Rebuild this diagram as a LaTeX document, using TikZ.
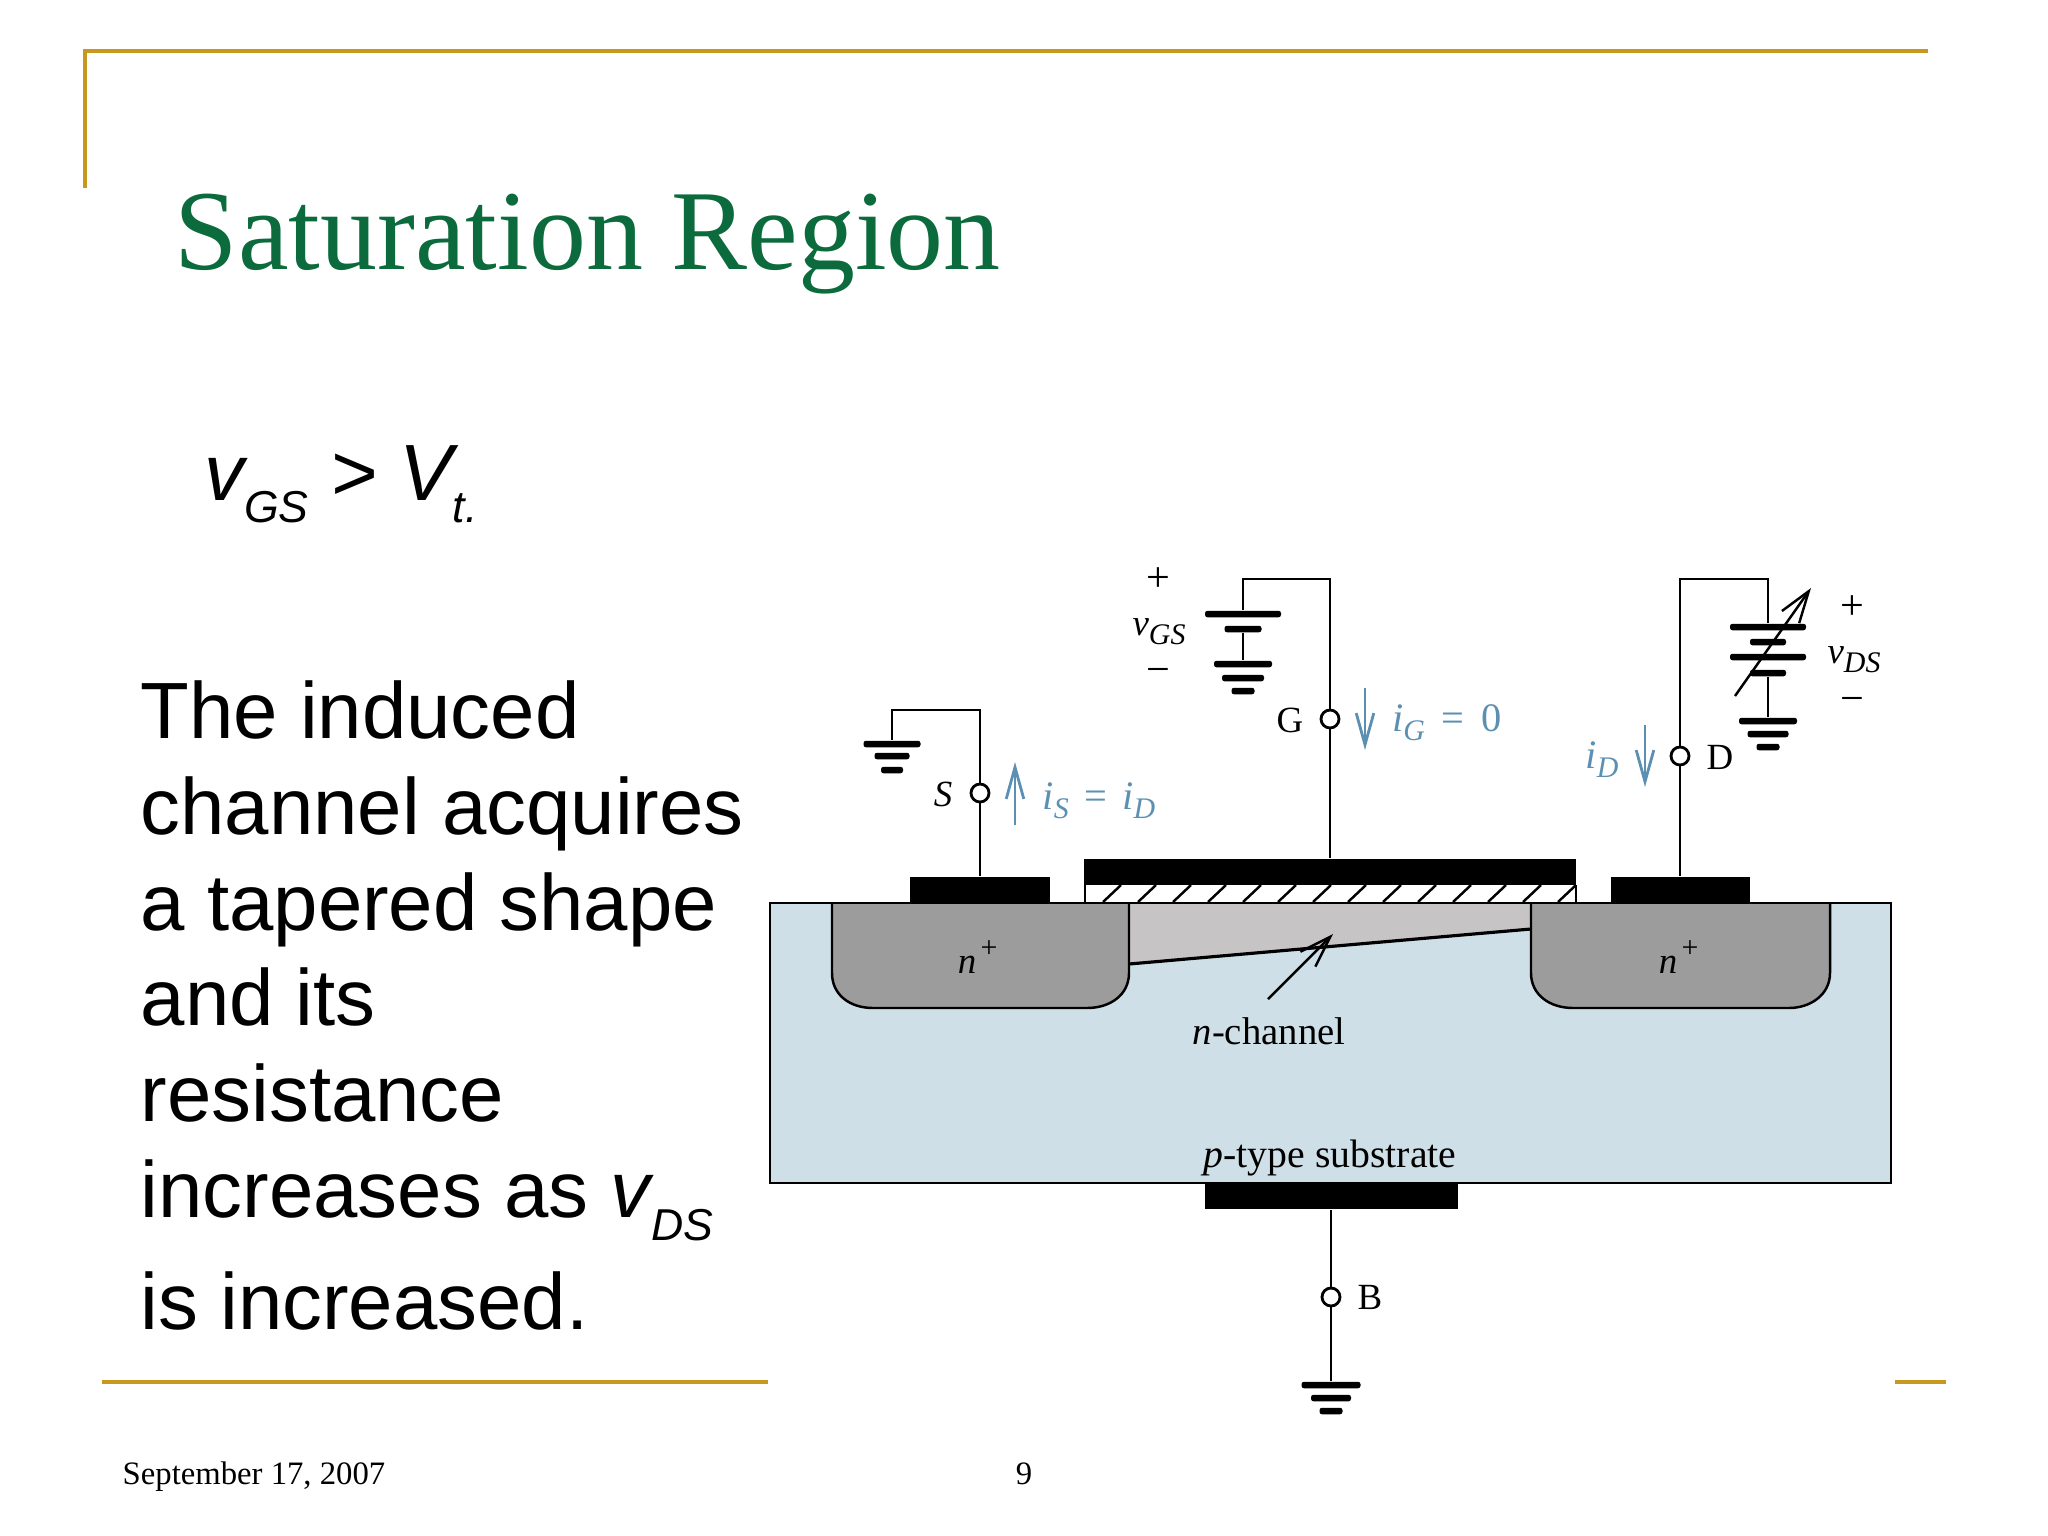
\documentclass[tikz,border=0pt]{standalone}
\usepackage{fontspec}
\usetikzlibrary{arrows.meta}
\setmainfont{Liberation Serif}
\newfontfamily\arialfont{Liberation Sans}
\definecolor{slidegold}{HTML}{C8981E}
\definecolor{titlegreen}{HTML}{0B6B3C}
\definecolor{substrateblue}{HTML}{CFDFE7}
\definecolor{wellgray}{HTML}{9C9C9C}
\definecolor{channelgray}{HTML}{C6C4C4}
\definecolor{currentblue}{HTML}{5C90B2}
\newcommand{\lowtxt}[1]{\raisebox{-6.5pt}{\fontsize{12.7}{14}\selectfont\textit{#1}}}
\newcommand{\smallsub}[2]{\textit{#1}\raisebox{-2.5pt}{\fontsize{8.5}{9}\selectfont\textit{#2}}}
\tikzset{
  goldline/.style={draw=slidegold,line width=1.2pt},
  wire/.style={draw=black,line width=0.7pt},
  metal/.style={fill=black,inner sep=0pt,minimum height=26*0.01cm},
  plate/.style={fill=black,rounded corners=0.7pt,inner sep=0pt,minimum height=6.5*0.01cm},
  terminal/.style={circle,draw=black,fill=white,line width=0.8pt,inner sep=0pt,minimum size=18*0.01cm},
  bigtext/.style={font=\arialfont\fontsize{22.68}{27.25}\selectfont,inner sep=0pt,align=left},
  label/.style={font=\fontsize{10.5}{12}\selectfont,inner sep=0pt},
  bluelabel/.style={label,text=currentblue,font=\fontsize{11.5}{13}\selectfont},
  current/.style={draw=currentblue,line width=0.8pt,-{Straight Barb[length=9pt,width=5pt]}}
}
\begin{document}
\begin{tikzpicture}[x=0.01cm,y=-0.01cm]
    \useasboundingbox (0,0) rectangle (2048,1536);
    % slide frame
    \draw[goldline] (85,188) -- (85,51) -- (1928,51);
    \draw[goldline] (102,1382) -- (768,1382);
    \draw[goldline] (1895,1382) -- (1946,1382);
    % slide text
    \node[anchor=base west,inner sep=0pt,text=titlegreen,font=\fontsize{32.4}{36}\selectfont] (title) at (174,269) {Saturation Region};
    \node[anchor=base west,inner sep=0pt,font=\arialfont\fontsize{22.68}{27}\selectfont] (vgsrule) at (204,500)
        {\textit{v}\hspace{-1.2pt}\lowtxt{GS} \textit{> V}\hspace{-1.8pt}\lowtxt{t.}};
    \node[bigtext,anchor=north west] (bodytext) at (140,680) {The induced\\channel acquires\\a tapered shape\\and its\\resistance\\increases as \textit{v}\hspace{-0.8pt}\lowtxt{DS}\\[4.5pt]is increased.};
    \node[anchor=base west,inner sep=0pt,font=\fontsize{9.3}{11}\selectfont] (datetext) at (122,1484) {September 17, 2007};
    \node[anchor=base,inner sep=0pt,font=\fontsize{9.3}{11}\selectfont] (pagenum) at (1024,1484) {9};
    % device body
    \draw[fill=substrateblue,line width=0.7pt] (770,903) rectangle (1891,1183);
    \fill[channelgray] (1129,903) -- (1129,964) -- (1531,929) -- (1531,903) -- cycle;
    \draw[line width=0.9pt] (1129,964) -- (1531,929);
    \draw[fill=wellgray,line width=0.7pt] (832,903) -- (832,973) .. controls (832,995) and (850,1008) .. (873,1008)
        -- (1087,1008) .. controls (1110,1008) and (1129,995) .. (1129,973) -- (1129,903);
    \draw[fill=wellgray,line width=0.7pt] (1531,903) -- (1531,973) .. controls (1531,995) and (1550,1008) .. (1573,1008)
        -- (1789,1008) .. controls (1810,1008) and (1830,995) .. (1830,973) -- (1830,903);
    \draw[line width=0.7pt] (770,903) -- (1891,903);
    % gate oxide
    \draw[line width=0.7pt] (1085,885) -- (1085,903) (1576,885) -- (1576,903);
    \foreach \i in {0,...,13}
        \draw[line width=0.7pt] (1103+35*\i,902) -- (1121+35*\i,885);
    % contacts
    \node[metal,minimum width=140*0.01cm] (smetal) at (980,890) {};
    \node[metal,minimum width=492*0.01cm] (gmetal) at (1330,872) {};
    \node[metal,minimum width=139*0.01cm] (dmetal) at (1680,890) {};
    \node[metal,minimum width=253*0.01cm] (bmetal) at (1331,1196) {};
    % terminals
    \node[terminal] (sterm) at (980,793) {};
    \node[terminal] (gterm) at (1330,719) {};
    \node[terminal] (dterm) at (1680,756) {};
    \node[terminal] (bterm) at (1331,1297) {};
    % battery plates and grounds
    \foreach \name/\x/\y/\w in {sgA/892/744/57,sgB/892/756/35,sgC/892/770/22,
        vgA/1243/614/76,vgB/1243/629/37,ggA/1243/664/58,ggB/1243/678/42,ggC/1243/691/23,
        vdA/1768/627/76,vdB/1768/642/36,vdC/1768/657/76,vdD/1768/673/36,
        dgA/1768/721/58,dgB/1768/734/41,dgC/1768/747/23,
        bgA/1331/1385/59,bgB/1331/1398/40,bgC/1331/1411/23}
        \node[plate,minimum width=\w*0.01cm] (\name) at (\x,\y) {};
    % corner points of the wires
    \coordinate (scorner) at (892,710);
    \coordinate (stop) at (980,710);
    \coordinate (gcorner) at (1243,579);
    \coordinate (gtop) at (1330,579);
    \coordinate (dcorner) at (1680,579);
    \coordinate (dtop) at (1768,579);
    % wires
    \draw[wire] (smetal.north -| sterm) -- (sterm);
    \draw[wire] (sterm) -- (stop) -- (scorner) -- (sgA);
    \draw[wire] (gmetal.north -| gterm) -- (gterm);
    \draw[wire] (gterm) -- (gtop) -- (gcorner) -- (vgA);
    \draw[wire] (vgB) -- (ggA);
    \draw[wire] (dmetal) -- (dterm);
    \draw[wire] (dterm) -- (dcorner) -- (dtop) -- (vdA);
    \draw[wire] (vdD) -- (dgA);
    \draw[wire] (bmetal) -- (bterm);
    \draw[wire] (bterm) -- (bgA);
    % variable source arrow
    \coordinate (varstart) at (1735,696);
    \coordinate (varend) at (1811,588);
    \draw[wire,-{Straight Barb[length=9pt,width=6pt]}] (varstart) -- (varend);
    % channel pointer
    \coordinate (chanstart) at (1268,999);
    \coordinate (chanend) at (1333,934);
    \draw[wire,-{Straight Barb[length=9pt,width=6pt]}] (chanstart) -- (chanend);
    % currents
    \coordinate (isA) at (1015,825);
    \coordinate (isB) at (1015,762);
    \coordinate (igA) at (1365,688);
    \coordinate (igB) at (1365,750);
    \coordinate (idA) at (1645,725);
    \coordinate (idB) at (1645,787);
    \draw[current] (isA) -- (isB);
    \draw[current] (igA) -- (igB);
    \draw[current] (idA) -- (idB);
    % labels
    \node[label,font=\fontsize{10.5}{12}\selectfont\itshape] (slabel) at (943,794) {S};
    \node[label] (glabel) at (1290,720) {G};
    \node[label] (dlabel) at (1720,757) {D};
    \node[label] (blabel) at (1370,1297) {B};
    \node[bluelabel] (islabel) at (1099,801) {\smallsub{i}{S}\hspace{0.38em}=\hspace{0.38em}\smallsub{i}{D}};
    \node[bluelabel] (iglabel) at (1447,723) {\smallsub{i}{G}\hspace{0.42em}=\hspace{0.42em}0};
    \node[bluelabel] (idlabel) at (1602,760) {\smallsub{i}{D}};
    \node[label,font=\fontsize{12}{14}\selectfont] (gplus) at (1158,580) {+};
    \node[label] (vgslabel) at (1159,632) {\smallsub{v}{GS}};
    \node[label,font=\fontsize{12}{14}\selectfont] (gminus) at (1158,676) {−};
    \node[label,font=\fontsize{12}{14}\selectfont] (dplus) at (1852,608) {+};
    \node[label] (vdslabel) at (1854,660) {\smallsub{v}{DS}};
    \node[label,font=\fontsize{12}{14}\selectfont] (dminus) at (1852,705) {−};
    \node[label] (ln) at (967,965) {\textit{n}};
    \node[label,font=\fontsize{8.5}{10}\selectfont] (lplus) at (989,949) {+};
    \node[label] (rn) at (1668,965) {\textit{n}};
    \node[label,font=\fontsize{8.5}{10}\selectfont] (rplus) at (1690,949) {+};
    \node[label,font=\fontsize{11}{13}\selectfont] (chanlabel) at (1269,1031) {\textit{n}-channel};
    \node[label,font=\fontsize{11.3}{13}\selectfont] (sublabel) at (1330,1158) {\textit{p}-type substrate};
\end{tikzpicture}
\end{document}
